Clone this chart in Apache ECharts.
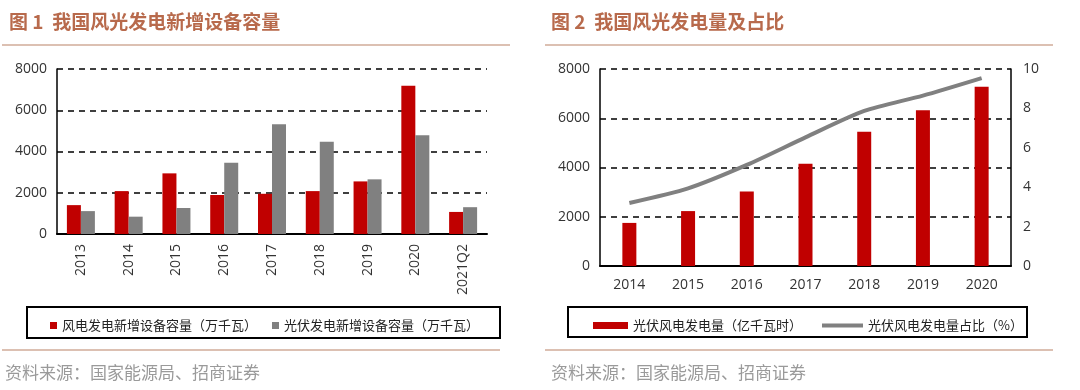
<!DOCTYPE html>
<html>
<head>
<meta charset="utf-8">
<script src="https://cdn.jsdelivr.net/npm/echarts@6/dist/echarts.min.js"></script>
<style>
html,body{margin:0;padding:0;background:#fff;}
#c{width:1080px;height:390px;}
</style>
</head>
<body>
<div id="c"></div>
<script>
// Chart 1: new installed capacity (万千瓦)
const cats1 = ['2013','2014','2015','2016','2017','2018','2019','2020','2021Q2'];
const wind1 = [1400, 2080, 2940, 1890, 1950, 2080, 2550, 7190, 1070];
const solar1 = [1110, 840, 1260, 3450, 5320, 4470, 2650, 4790, 1300];
const yTicks1 = [0, 2000, 4000, 6000, 8000];

// Chart 2: generation and share
const cats2 = ['2014','2015','2016','2017','2018','2019','2020'];
const gen2 = [1750, 2230, 3030, 4150, 5450, 6320, 7280];
const share2 = [3.2, 3.94, 5.13, 6.53, 7.87, 8.65, 9.54];
const yTicksL2 = [0, 2000, 4000, 6000, 8000];
const yTicksR2 = [0, 2, 4, 6, 8, 10];

const names1 = ['风电发电新增设备容量（万千瓦）', '光伏发电新增设备容量（万千瓦）'];
const names2 = ['光伏风电发电量（亿千瓦时）', '光伏风电发电量占比（%）'];
const titles = ['图 1  我国风光发电新增设备容量', '图 2  我国风光发电量及占比'];
const source = '资料来源：国家能源局、招商证券';

const RED = '#C00000', GREY = '#808080';
const FONT = '"Noto Sans CJK SC", "Open Sans", sans-serif';
const NUMFONT = '"Open Sans", sans-serif';
const chart = echarts.init(document.getElementById('c'));

const dash = {show: true, lineStyle: {color: '#000', type: [6, 5], width: 1.6}};
const axisTxt = {color: '#333', fontSize: 14, fontFamily: NUMFONT, formatter: v => String(v)};

chart.setOption({
  backgroundColor: '#fff',
  animation: false,
  title: [
    {text: titles[0], left: 4, top: 7, textStyle: {color: '#B86A4C', fontSize: 19, fontWeight: 'bold', fontFamily: FONT}},
    {text: titles[1], left: 546, top: 7, textStyle: {color: '#B86A4C', fontSize: 19, fontWeight: 'bold', fontFamily: FONT}},
    {text: source, left: 0, top: 359, textStyle: {color: '#9a9a9a', fontSize: 17, fontWeight: 'normal', fontFamily: FONT}},
    {text: source, left: 546, top: 359, textStyle: {color: '#9a9a9a', fontSize: 17, fontWeight: 'normal', fontFamily: FONT}}
  ],
  graphic: [
    {type: 'line', shape: {x1: 2, y1: 45, x2: 510, y2: 45}, style: {stroke: '#DCC0B2', lineWidth: 2}},
    {type: 'line', shape: {x1: 545, y1: 45, x2: 1053, y2: 45}, style: {stroke: '#DCC0B2', lineWidth: 2}},
    {type: 'line', shape: {x1: 2, y1: 350, x2: 500, y2: 350}, style: {stroke: '#DCC0B2', lineWidth: 2}},
    {type: 'line', shape: {x1: 545, y1: 350, x2: 1053, y2: 350}, style: {stroke: '#DCC0B2', lineWidth: 2}},
    {type: 'rect', shape: {x: 27, y: 307, width: 473, height: 31}, style: {fill: 'none', stroke: '#000', lineWidth: 2}},
    {type: 'rect', shape: {x: 568, y: 307, width: 459, height: 30}, style: {fill: 'none', stroke: '#000', lineWidth: 2}}
  ],
  legend: [
    {data: [names1[0]], left: 45, top: 314, icon: 'rect', itemWidth: 7, itemHeight: 7,
     textStyle: {color: '#222', fontSize: 13, fontFamily: FONT}},
    {data: [names1[1]], left: 267, top: 314, icon: 'rect', itemWidth: 7, itemHeight: 7,
     textStyle: {color: '#222', fontSize: 13, fontFamily: FONT}},
    {data: [names2[0]], left: 588, top: 314, icon: 'rect', itemWidth: 35, itemHeight: 7,
     textStyle: {color: '#222', fontSize: 13, fontFamily: FONT}},
    {data: [{name: names2[1], icon: 'rect', itemStyle: {color: GREY}}], left: 817, top: 314, itemWidth: 41, itemHeight: 4,
     textStyle: {color: '#222', fontSize: 13, fontFamily: FONT}}
  ],
  grid: [
    {left: 57, right: 593, top: 69, bottom: 156, containLabel: false},
    {left: 600, right: 69, top: 69, bottom: 124, containLabel: false}
  ],
  xAxis: [
    {type: 'category', gridIndex: 0, data: cats1,
     axisLine: {lineStyle: {color: '#000', width: 2}}, axisTick: {show: false},
     axisLabel: {rotate: 90, margin: 10, color: '#333', fontSize: 14, fontFamily: NUMFONT}},
    {type: 'category', gridIndex: 1, data: cats2,
     axisLine: {lineStyle: {color: '#000', width: 2}}, axisTick: {show: false},
     axisLabel: {margin: 12, color: '#333', fontSize: 14, fontFamily: NUMFONT}}
  ],
  yAxis: [
    {type: 'value', gridIndex: 0, min: yTicks1[0], max: yTicks1[yTicks1.length - 1], interval: 2000,
     axisLine: {show: true, lineStyle: {color: '#000', width: 1.5}}, axisTick: {show: false},
     splitLine: dash, axisLabel: Object.assign({margin: 10}, axisTxt)},
    {type: 'value', gridIndex: 1, min: yTicksL2[0], max: yTicksL2[yTicksL2.length - 1], interval: 2000,
     axisLine: {show: true, lineStyle: {color: '#000', width: 1.5}}, axisTick: {show: false},
     splitLine: dash, axisLabel: Object.assign({margin: 10}, axisTxt)},
    {type: 'value', gridIndex: 1, position: 'right', min: yTicksR2[0], max: yTicksR2[yTicksR2.length - 1], interval: 2,
     axisLine: {show: true, lineStyle: {color: '#000', width: 1.5}}, axisTick: {show: false},
     splitLine: {show: false}, axisLabel: Object.assign({margin: 12}, axisTxt)}
  ],
  series: [
    {name: names1[0], type: 'bar', xAxisIndex: 0, yAxisIndex: 0, data: wind1, barWidth: 14, barGap: '0%',
     itemStyle: {color: RED}},
    {name: names1[1], type: 'bar', xAxisIndex: 0, yAxisIndex: 0, data: solar1, barWidth: 14, barGap: '0%',
     itemStyle: {color: GREY}},
    {name: names2[0], type: 'bar', xAxisIndex: 1, yAxisIndex: 1, data: gen2, barWidth: 14,
     itemStyle: {color: RED}},
    {name: names2[1], type: 'line', xAxisIndex: 1, yAxisIndex: 2, data: share2, smooth: 0.25,
     showSymbol: false, symbol: 'none', lineStyle: {color: GREY, width: 4}, itemStyle: {color: GREY}}
  ]
});
</script>
</body>
</html>
